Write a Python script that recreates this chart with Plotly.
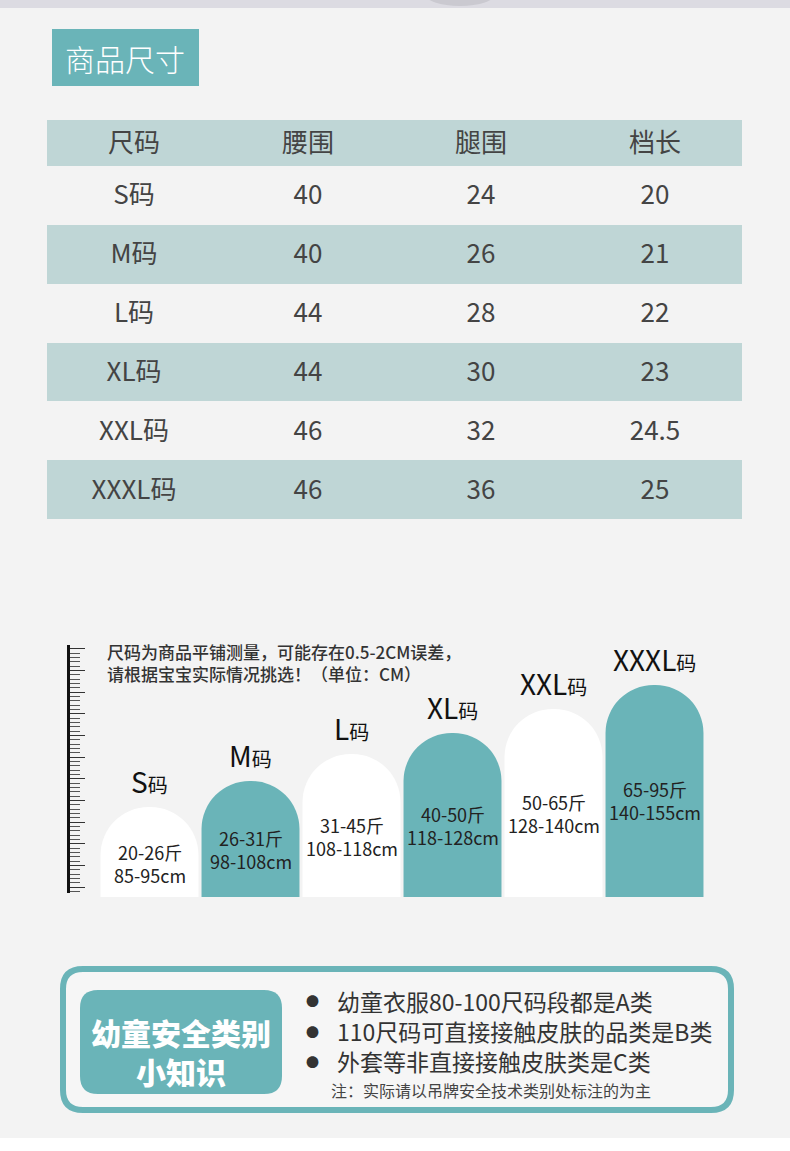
import plotly.graph_objects as go

W, H = 790, 1151
FONT = "Noto Sans CJK SC"
TEAL = "#6ab4b8"
STRIPE = "#bfd6d6"
BG = "#f3f3f3"

# size table
table_header = ["尺码", "腰围", "腿围", "档长"]
sizes = ["S码", "M码", "L码", "XL码", "XXL码", "XXXL码"]
waist = [40, 40, 44, 44, 46, 46]
leg = [24, 26, 28, 30, 32, 36]
crotch = [20, 21, 22, 23, 24.5, 25]

# arch chart
size_letters = ["S", "M", "L", "XL", "XXL", "XXXL"]
arch_heights = [90, 116, 143, 164, 188, 212]
weights = ["20-26斤", "26-31斤", "31-45斤", "40-50斤", "50-65斤", "65-95斤"]
body_heights = ["85-95cm", "98-108cm", "108-118cm", "118-128cm", "128-140cm", "140-155cm"]

notes = ["尺码为商品平铺测量，可能存在0.5-2CM误差，",
         "请根据宝宝实际情况挑选！（单位：CM）"]
tips = ["幼童衣服80-100尺码段都是A类",
        "110尺码可直接接触皮肤的品类是B类",
        "外套等非直接接触皮肤类是C类"]
tip_note = "注：实际请以吊牌安全技术类别处标注的为主"


def px(x):
    return x / W


def py(y):
    return 1 - y / H


def rrect(x0, y0, x1, y1, r):
    pts = [("M", [(x0 + r, y0)]), ("L", [(x1 - r, y0)]), ("Q", [(x1, y0), (x1, y0 + r)]),
           ("L", [(x1, y1 - r)]), ("Q", [(x1, y1), (x1 - r, y1)]), ("L", [(x0 + r, y1)]),
           ("Q", [(x0, y1), (x0, y1 - r)]), ("L", [(x0, y0 + r)]), ("Q", [(x0, y0), (x0 + r, y0)])]
    s = ""
    for cmd, ps in pts:
        s += cmd + " ".join(f"{px(a):.5f},{py(b):.5f}" for a, b in ps) + " "
    return s + "Z"


fig = go.Figure()

# table drawn as a striped heatmap with centred text
row_text = [table_header] + [[s, str(a), str(b), str(c)] for s, a, b, c in zip(sizes, waist, leg, crotch)]
header_h = 46
row_h = (519 - 120 - header_h) / len(sizes)
y_edges = [0, header_h] + [header_h + row_h * (i + 1) for i in range(len(sizes))]
stripe = [[1 if i % 2 == 0 else 0] * 4 for i in range(len(row_text))]
fig.add_trace(go.Heatmap(
    z=stripe, x=[0, 1, 2, 3], y=y_edges, text=row_text, texttemplate="%{text}",
    textfont=dict(family=FONT, size=26, color="#444"),
    colorscale=[[0, BG], [1, STRIPE]], zmin=0, zmax=1, showscale=False,
    hoverinfo="skip", xaxis="x3", yaxis="y3"))

# arches
arch_colors = ["white" if i % 2 == 0 else TEAL for i in range(len(size_letters))]
fig.add_trace(go.Bar(
    x=size_letters, y=arch_heights, width=0.97,
    marker=dict(color=arch_colors, cornerradius="50%", line_width=0),
    hoverinfo="skip", xaxis="x2", yaxis="y2"))

# ruler axis holder
fig.add_trace(go.Scatter(x=[None], y=[None], xaxis="x4", yaxis="y4", hoverinfo="skip"))

shapes = [
    dict(type="rect", xref="paper", yref="paper", x0=0, x1=1, y0=py(8), y1=1,
         fillcolor="#dcdbe2", line_width=0, layer="below"),
    dict(type="circle", xref="paper", yref="paper", x0=px(425), x1=px(495), y0=py(6), y1=py(-18),
         fillcolor="#b8b7bd", opacity=0.5, line_width=0, layer="below"),
    dict(type="rect", xref="paper", yref="paper", x0=0, x1=1, y0=0, y1=py(1138),
         fillcolor="white", line_width=0, layer="below"),
    dict(type="rect", xref="paper", yref="paper", x0=px(52), x1=px(199), y0=py(86), y1=py(29),
         fillcolor=TEAL, line_width=0, layer="below"),
    dict(type="path", xref="paper", yref="paper", path=rrect(63, 969, 731, 1110, 20),
         fillcolor="#f6f6f6", line=dict(color=TEAL, width=6), layer="below"),
    dict(type="path", xref="paper", yref="paper", path=rrect(80, 990, 282, 1094, 18),
         fillcolor=TEAL, line_width=0, layer="below"),
]

ann = []
ann.append(dict(text="商品尺寸", x=px(125.5), y=py(57.5), font=dict(family=FONT, size=30, color="white", weight=300)))

ann.append(dict(text="<br>".join(notes), x=px(105), y=py(662), xanchor="left", align="left",
                font=dict(family=FONT, size=17, color="#333", weight=500)))

for s, h, wt, bh in zip(size_letters, arch_heights, weights, body_heights):
    ann.append(dict(text=f"{s}<span style='font-size:20px'>码</span>", x=s, y=h, xref="x2", yref="y2",
                    yshift=26, font=dict(family=FONT, size=28, color="#111")))
    ann.append(dict(text=f"{wt}<br>{bh}", x=s, y=0.51 * h - 12, xref="x2", yref="y2",
                    font=dict(family=FONT, size=18, color="#222")))

ann.append(dict(text="幼童安全类别<br>小知识", x=px(181), y=py(1051),
                font=dict(family=FONT, size=30, color="white", weight=900)))
for i in range(len(tips)):
    ann.append(dict(text="●", x=px(312), y=py(1001 + 30 * i), font=dict(family=FONT, size=13, color="#333")))
ann.append(dict(text="<br>".join(tips), x=px(335), y=py(1031), xanchor="left", align="left",
                font=dict(family=FONT, size=23, color="#333")))
ann.append(dict(text=tip_note, x=px(329), y=py(1090), xanchor="left", font=dict(family=FONT, size=16, color="#444")))

for a in ann:
    a.setdefault("xref", "paper")
    a.setdefault("yref", "paper")
    a.setdefault("xanchor", "center")
    a.setdefault("yanchor", "middle")
    a["showarrow"] = False

fig.update_layout(
    width=W, height=H, margin=dict(l=0, r=0, t=0, b=0),
    paper_bgcolor=BG, plot_bgcolor="rgba(0,0,0,0)", showlegend=False,
    shapes=shapes, annotations=ann,
    xaxis=dict(visible=False), yaxis=dict(visible=False),
    xaxis2=dict(domain=[px(99), px(705)], range=[-0.5, 5.5], visible=False, anchor="y2"),
    yaxis2=dict(domain=[py(897), py(645)], range=[0, 252], visible=False, anchor="x2"),
    xaxis3=dict(domain=[px(47), px(742)], range=[-0.5, 3.5], visible=False, anchor="y3"),
    yaxis3=dict(domain=[py(519), py(120)], range=[y_edges[-1], 0], visible=False, anchor="x3"),
    xaxis4=dict(domain=[px(70), px(90)], visible=False, anchor="y4"),
    yaxis4=dict(domain=[py(893), py(645)], range=[-6 / 4.33, 242 / 4.33], anchor="x4",
                showline=True, linecolor="#111", linewidth=2.5, showgrid=False, zeroline=False,
                showticklabels=False, ticks="inside", tick0=0, dtick=5, ticklen=15,
                tickwidth=1.2, tickcolor="#333",
                minor=dict(dtick=1, ticks="inside", ticklen=10, tickwidth=1, tickcolor="#555", showgrid=False)),
)

fig.write_html("out.html", config={"displayModeBar": False},
               post_script="document.body.style.margin='0';")
